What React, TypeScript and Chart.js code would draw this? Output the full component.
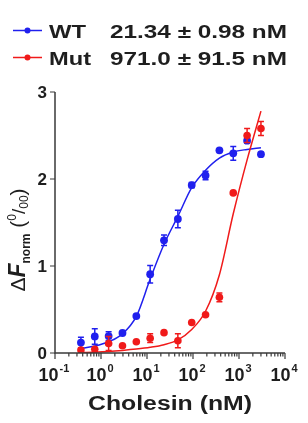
import { useEffect, useRef } from "react";
import { Chart, registerables } from "chart.js";
Chart.register(...registerables);

const concentrations = [0.366, 0.732, 1.465, 2.93, 5.86, 11.72, 23.44, 46.88, 93.75, 187.5, 375, 750, 1500, 3000];
const wtValues = [0.12, 0.19, 0.195, 0.23, 0.425, 0.905, 1.295, 1.54, 1.93, 2.04, 2.33, 2.295, 2.44, 2.285];
const wtErrors = [0.06, 0.09, 0.05, 0.02, 0.02, 0.1, 0.06, 0.1, 0.03, 0.05, 0.02, 0.08, 0.03, 0.02];
const mutValues = [0.035, 0.042, 0.11, 0.084, 0.13, 0.17, 0.234, 0.14, 0.35, 0.44, 0.64, 1.84, 2.5, 2.58];
const mutErrors = [0.02, 0.02, 0.08, 0.02, 0.02, 0.05, 0.02, 0.08, 0.02, 0.02, 0.05, 0.02, 0.08, 0.08];
const wtFit = [0.05, 0.08, 0.13, 0.22, 0.42, 0.85, 1.25, 1.57, 1.9, 2.1, 2.24, 2.31, 2.34, 2.36];
const mutFit = [0.005, 0.01, 0.018, 0.03, 0.045, 0.065, 0.095, 0.15, 0.27, 0.48, 0.9, 1.6, 2.22, 2.78];
const xTickExponents = [-1, 0, 1, 2, 3, 4];
const yTickValues = [0, 1, 2, 3];
const legendNames = ["WT", "Mut"];
const legendValues = ["21.34 ± 0.98 nM", "971.0 ± 91.5 nM"];

const BLUE = "#2020ee";
const RED = "#f01a1a";
const INK = "#1e1e1e";
const AXIS = "#3a3a3a";
const FONT = "'Liberation Sans', Arial, sans-serif";

function fitText(ctx: CanvasRenderingContext2D, text: string, x: number, y: number, font: string, targetWidth: number | null, align: "left" | "center" | "right") {
  ctx.save();
  ctx.font = font;
  const w0 = ctx.measureText(text).width;
  const sx = targetWidth ? targetWidth / w0 : 1;
  const w = w0 * sx;
  const left = align === "center" ? x - w / 2 : align === "right" ? x - w : x;
  ctx.translate(left, y);
  ctx.scale(sx, 1);
  ctx.textAlign = "left";
  ctx.textBaseline = "alphabetic";
  ctx.fillText(text, 0, 0);
  ctx.restore();
}

const decorPlugin = {
  id: "decor",
  afterDatasetDraw(chart: any, args: any) {
    const ds = chart.data.datasets[args.index];
    if (!ds.errors) return;
    const ctx = chart.ctx;
    const xs = chart.scales.x;
    const ys = chart.scales.y;
    ctx.save();
    ctx.strokeStyle = ds.borderColor;
    ctx.lineWidth = 1.5;
    ds.data.forEach((p: any, i: number) => {
      const e = ds.errors[i];
      if (!e || e < 0.03) return;
      const px = xs.getPixelForValue(p.x);
      const y1 = ys.getPixelForValue(p.y + e);
      const y2 = ys.getPixelForValue(p.y - e);
      ctx.beginPath();
      ctx.moveTo(px, y1); ctx.lineTo(px, y2);
      ctx.moveTo(px - 3, y1); ctx.lineTo(px + 3, y1);
      ctx.moveTo(px - 3, y2); ctx.lineTo(px + 3, y2);
      ctx.stroke();
    });
    ctx.restore();
  },
  afterDraw(chart: any) {
    const ctx: CanvasRenderingContext2D = chart.ctx;
    const xs = chart.scales.x;
    const ys = chart.scales.y;
    const { left, right, top, bottom } = chart.chartArea;
    ctx.save();
    // axes
    ctx.strokeStyle = AXIS;
    ctx.lineWidth = 1.5;
    ctx.beginPath();
    ctx.moveTo(left, top); ctx.lineTo(left, bottom); ctx.lineTo(right, bottom);
    ctx.stroke();
    ctx.lineWidth = 1.2;
    ctx.beginPath();
    yTickValues.forEach((v) => {
      const py = ys.getPixelForValue(v);
      ctx.moveTo(left - 5, py); ctx.lineTo(left, py);
    });
    xTickExponents.forEach((d, idx) => {
      const px = xs.getPixelForValue(Math.pow(10, d));
      ctx.moveTo(px, bottom); ctx.lineTo(px, bottom + 6);
      if (idx < xTickExponents.length - 1) {
        for (let k = 2; k <= 9; k++) {
          const mx = xs.getPixelForValue(k * Math.pow(10, d));
          ctx.moveTo(mx, bottom); ctx.lineTo(mx, bottom + 3.5);
        }
      }
    });
    ctx.stroke();
    // y tick labels
    ctx.fillStyle = INK;
    yTickValues.forEach((v) => {
      const py = ys.getPixelForValue(v);
      fitText(ctx, String(v), left - 8, py + 6, `bold 17px ${FONT}`, null, "right");
    });
    // x tick labels
    xTickExponents.forEach((d) => {
      const px = xs.getPixelForValue(Math.pow(10, d)) - 1;
      ctx.font = `bold 18px ${FONT}`;
      const wb = ctx.measureText("10").width;
      ctx.font = `bold 11px ${FONT}`;
      const sup = d < 0 ? "-" + Math.abs(d) : String(d);
      const ws = ctx.measureText(sup).width;
      const total = wb + ws + 1;
      const x0 = px - total / 2;
      fitText(ctx, "10", x0, 381, `bold 18px ${FONT}`, null, "left");
      fitText(ctx, sup, x0 + wb + 1, 372, `bold 11px ${FONT}`, null, "left");
    });
    // x title
    fitText(ctx, "Cholesin (nM)", (left + right) / 2, 410, `bold 20px ${FONT}`, 164, "center");
    // y title (rotated)
    ctx.save();
    ctx.translate(25, 0);
    ctx.rotate(-Math.PI / 2);
    const parts: [string, string, number][] = [
      ["Δ", `21px ${FONT}`, 0],
      ["F", `italic bold 23px ${FONT}`, 0],
      ["norm", `bold 12px ${FONT}`, 5],
      [" (", `21px ${FONT}`, 0],
      ["0", `12px ${FONT}`, -9],
      ["/", `19px ${FONT}`, 0],
      ["00", `12px ${FONT}`, 3],
      [")", `21px ${FONT}`, 0],
    ];
    let total = 0;
    parts.forEach(([t, f]) => { ctx.font = f; total += ctx.measureText(t).width; });
    const centerY = 240;
    let cx = -(centerY + total / 2);
    parts.forEach(([t, f, dy]) => {
      ctx.font = f;
      ctx.textAlign = "left";
      ctx.fillText(t, cx, dy);
      cx += ctx.measureText(t).width;
    });
    ctx.restore();
    // legend
    const rows = [
      { y: 30.5, color: BLUE, name: legendNames[0], value: legendValues[0], nameW: 37 },
      { y: 57.5, color: RED, name: legendNames[1], value: legendValues[1], nameW: 42 },
    ];
    rows.forEach((r) => {
      ctx.strokeStyle = r.color;
      ctx.lineWidth = 1.5;
      ctx.beginPath();
      ctx.moveTo(13, r.y); ctx.lineTo(42, r.y);
      ctx.stroke();
      ctx.fillStyle = r.color;
      ctx.beginPath();
      ctx.arc(27.5, r.y, 3, 0, Math.PI * 2);
      ctx.fill();
      ctx.fillStyle = INK;
      fitText(ctx, r.name, 49, r.y + 7, `bold 19px ${FONT}`, r.nameW, "left");
      fitText(ctx, r.value, 110, r.y + 7, `bold 19px ${FONT}`, 177, "left");
    });
    ctx.restore();
  },
};

export default function App() {
  const ref = useRef<HTMLCanvasElement | null>(null);
  useEffect(() => {
    document.body.style.margin = "0";
    const canvas = ref.current;
    if (!canvas) return;
    const pts = (vals: number[]) => concentrations.map((c, i) => ({ x: c, y: vals[i] }));
    const chart = new Chart(canvas, {
      type: "scatter",
      data: {
        datasets: [
          { label: "Mut", data: pts(mutValues), errors: mutErrors, borderColor: RED, backgroundColor: RED, pointRadius: 3.8, pointBorderWidth: 0, showLine: false } as any,
          { label: "Mut fit", data: pts(mutFit), borderColor: RED, borderWidth: 1.5, pointRadius: 0, showLine: true, cubicInterpolationMode: "monotone" } as any,
          { label: "WT", data: pts(wtValues), errors: wtErrors, borderColor: BLUE, backgroundColor: BLUE, pointRadius: 3.9, pointBorderWidth: 0, showLine: false } as any,
          { label: "WT fit", data: pts(wtFit), borderColor: BLUE, borderWidth: 1.5, pointRadius: 0, showLine: true, cubicInterpolationMode: "monotone" } as any,
        ],
      },
      options: {
        responsive: false,
        animation: false,
        devicePixelRatio: 1,
        layout: { padding: { left: 55, right: 23, top: 92, bottom: 70 } },
        plugins: { legend: { display: false }, tooltip: { enabled: false } },
        scales: {
          x: { type: "logarithmic", min: 0.1, max: 10000, display: false },
          y: { type: "linear", min: 0, max: 3, display: false },
        },
      },
      plugins: [decorPlugin],
    });
    return () => chart.destroy();
  }, []);
  return <canvas ref={ref} width={308} height={423} style={{ display: "block", width: 308, height: 423 }} />;
}
